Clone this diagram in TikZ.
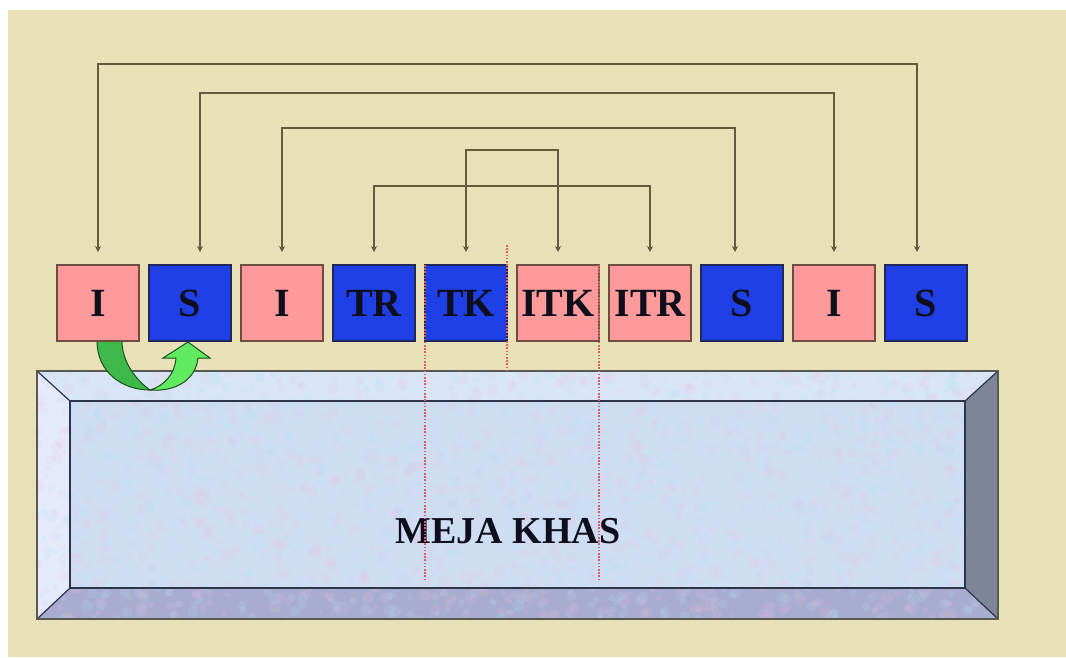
\documentclass[tikz,border=0pt]{standalone}
\usepackage{fontspec}
\setmainfont{Liberation Serif}
\usepackage{tikz}
\usetikzlibrary{arrows.meta}

\definecolor{paper}{RGB}{232,224,183}
\definecolor{boxpink}{RGB}{255,154,154}
\definecolor{boxblue}{RGB}{30,64,230}
\definecolor{pinkedge}{RGB}{110,78,66}
\definecolor{blueedge}{RGB}{32,40,92}
\definecolor{boxtext}{RGB}{14,14,28}
\definecolor{linkcol}{RGB}{100,90,60}
\definecolor{cutred}{RGB}{224,92,100}
\definecolor{face}{RGB}{206,221,242}
\definecolor{topface}{RGB}{216,229,246}
\definecolor{leftface}{RGB}{228,234,250}
\definecolor{rightface}{RGB}{124,134,152}
\definecolor{bottomface}{RGB}{168,172,206}
\definecolor{outeredge}{RGB}{88,88,80}
\definecolor{inneredge}{RGB}{44,52,74}
\definecolor{mottlepink}{RGB}{236,192,228}
\definecolor{mottleblue}{RGB}{184,226,246}
\definecolor{turndark}{RGB}{62,184,72}
\definecolor{turnlight}{RGB}{96,234,98}
\definecolor{turnedge}{RGB}{26,80,26}

\begin{document}
\begin{tikzpicture}[x=1pt,y=-1pt,
    box/.style={line width=2pt, minimum width=82pt, minimum height=76pt,
      inner sep=0pt, text=boxtext, font=\fontsize{40}{40}\selectfont\bfseries},
    pinkbox/.style={box, draw=pinkedge, fill=boxpink},
    bluebox/.style={box, draw=blueedge, fill=boxblue},
    link/.style={draw=linkcol, line width=2.4pt,
      {Stealth[length=6pt,width=6pt]}-{Stealth[length=6pt,width=6pt]},
      shorten <=12pt, shorten >=12pt},
    cut/.style={draw=cutred, line width=2pt, dash pattern=on 1.6pt off 1.6pt}]
        \useasboundingbox (0,0) rectangle (1066,657);
        \fill[paper] (8,10) rectangle (1066,657);
        % table
        \fill[topface] (37,371) -- (998,371) -- (965,401) -- (70,401) -- cycle;
        \fill[leftface] (37,371) -- (70,401) -- (70,588) -- (37,619) -- cycle;
        \fill[rightface] (998,371) -- (998,619) -- (965,588) -- (965,401) -- cycle;
        \fill[bottomface] (37,619) -- (70,588) -- (965,588) -- (998,619) -- cycle;
        \fill[face] (70,401) rectangle (965,588);
        \begin{scope}
            \clip (37,371) -- (998,371) -- (965,401) -- (965,588) -- (998,619) -- (37,619) -- cycle;
            \pgfmathsetseed{17}
            \foreach \i in {1,...,900}{
                \pgfmathsetmacro{\px}{37+961*rnd}
                \pgfmathsetmacro{\py}{371+248*rnd}
                \pgfmathsetmacro{\pr}{2+4*rnd}
                \fill[mottlepink, opacity=0.16] (\px,\py) circle (\pr pt);
            }
            \foreach \i in {1,...,900}{
                \pgfmathsetmacro{\px}{37+961*rnd}
                \pgfmathsetmacro{\py}{371+248*rnd}
                \pgfmathsetmacro{\pr}{2+4*rnd}
                \fill[mottleblue, opacity=0.16] (\px,\py) circle (\pr pt);
            }
        \end{scope}
        \draw[inneredge, line width=1.5pt] (70,401) rectangle (965,588);
        \draw[inneredge, line width=1.2pt] (37,371) -- (70,401) (998,371) -- (965,401)
            (37,619) -- (70,588) (998,619) -- (965,588);
        \draw[outeredge, line width=2.5pt] (37,371) rectangle (998,619);
        \node (meja) at (508,531) {\fontsize{38}{38}\selectfont\bfseries\color{boxtext}MEJA KHAS};
        % turn arrow
        \filldraw[fill=turndark, draw=turnedge, line width=1pt]
            (97,341) .. controls (97,372) and (122,390) .. (150,390)
            .. controls (136,380) and (122,362) .. (122,341) -- cycle;
        \filldraw[fill=turnlight, draw=turnedge, line width=1pt]
            (150,390) .. controls (164,386) and (175,374) .. (176,358)
            -- (163,358) -- (188,342) -- (210,358) -- (198,358)
            .. controls (196,378) and (178,392) .. (150,390) -- cycle;
        % boxes
        \node[pinkbox] (b1) at (98,303) {I};
        \node[bluebox] (b2) at (190,303) {S};
        \node[pinkbox] (b3) at (282,303) {I};
        \node[bluebox] (b4) at (374,303) {TR};
        \node[bluebox] (b5) at (466,303) {TK};
        \node[pinkbox] (b6) at (558,303) {ITK};
        \node[pinkbox] (b7) at (650,303) {ITR};
        \node[bluebox] (b8) at (742,303) {S};
        \node[pinkbox] (b9) at (834,303) {I};
        \node[bluebox] (b10) at (926,303) {S};
        % links
        \draw[link] (b1.north) -- (b1.north |- 0,64) -| ([xshift=-9pt]b10.north);
        \draw[link] ([xshift=10pt]b2.north) -- ([xshift=10pt]b2.north |- 0,93) -| (b9.north);
        \draw[link] (b3.north) -- (b3.north |- 0,128) -| ([xshift=-7pt]b8.north);
        \draw[link] (b5.north) -- (b5.north |- 0,150) -| (b6.north);
        \draw[link] (b4.north) -- (b4.north |- 0,186) -| (b7.north);
        % cuts
        \draw[cut] (425,265) -- (425,580);
        \draw[cut] (507,245) -- (507,370);
        \draw[cut] (599,265) -- (599,580);
    \end{tikzpicture}
\end{document}
